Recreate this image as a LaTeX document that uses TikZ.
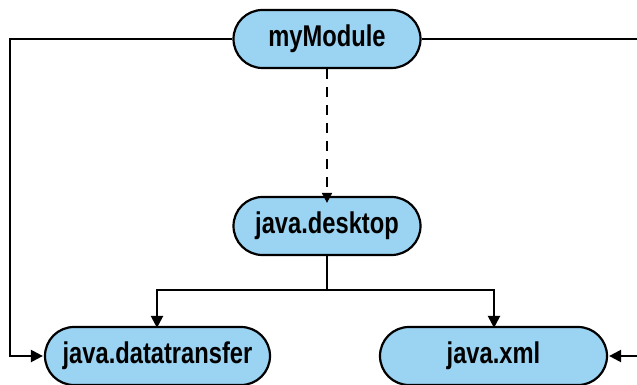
\documentclass[tikz,border=0pt]{standalone}
\usepackage{fontspec}
\setmainfont[FakeStretch=0.79]{Liberation Sans}
\usetikzlibrary{arrows.meta}
\definecolor{modfill}{RGB}{155,211,242}
\tikzset{
  module/.style={draw=black, line width=2.2pt, fill=modfill, rounded corners=29pt,
    minimum width=187pt, minimum height=58pt, inner sep=0pt,
    font=\fontsize{30}{32}\selectfont\bfseries},
  link/.style={line width=2.2pt, -{Triangle[length=12pt,width=12pt]}},
  dep/.style={line width=1.8pt, dash pattern=on 10pt off 8pt, -{Triangle[length=10pt,width=10pt]}}
}
\begin{document}
\begin{tikzpicture}[x=1pt,y=-1pt]
  \useasboundingbox (0,0) rectangle (637,385);
  \clip (0,0) rectangle (637,385);
  % modules
  \node[module] (my) at (327,39) {myModule};
  \node[module] (desk) at (327,226) {java.desktop};
  \node[module, minimum width=225pt] (dt) at (157.5,356) {java.datatransfer};
  \node[module, minimum width=227pt] (xml) at (493.5,356) {java.xml};
  % helper points for the routed connectors
  \coordinate (split) at (327,290);
  \coordinate (leftrail) at (10,39);
  \coordinate (rightrail) at (645,39);
  % optional dependency
  \draw[dep] (my.south) -- ([yshift=-7pt]desk.north);
  % java.desktop requires transitive
  \draw[line width=2.2pt] (desk.south) -- (split);
  \draw[link] (split) -| ([yshift=-2pt]dt.north -| 157,0);
  \draw[link] (split) -| ([yshift=-2pt]xml.north -| 494,0);
  % direct requires from myModule
  \draw[link] (my.west) -- (leftrail) |- ([xshift=-1pt]dt.west);
  \draw[link] (my.east) -- (rightrail) |- ([xshift=1pt]xml.east);
\end{tikzpicture}
\end{document}
